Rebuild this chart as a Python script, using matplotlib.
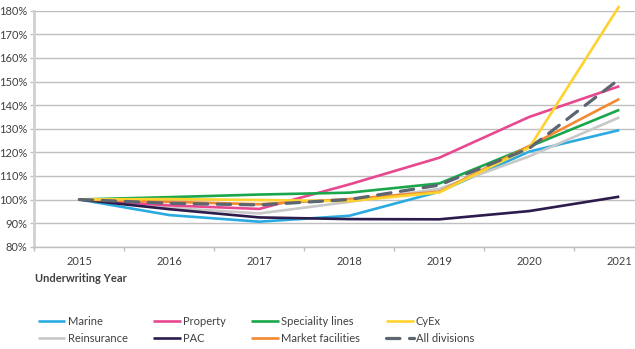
import matplotlib.pyplot as plt
import numpy as np

plt.rcParams['font.family'] = ['Lato', 'DejaVu Sans']

# データ
years = ["2015", "2016", "2017", "2018", "2019", "2020", "2021"]
marine = [100, 93.4, 90.6, 93.1, 103.3, 120.3, 129.4]
prop = [100, 97.5, 96.0, 106.4, 117.7, 135.0, 148.0]
special = [100, 101.0, 102.1, 102.9, 106.8, 122.4, 138.0]
cyex = [100, 100.2, 99.8, 99.3, 103.0, 122.0, 182.0]
reins = [100, 96.5, 94.1, 99.0, 104.5, 118.3, 134.8]
pac = [100, 95.9, 92.4, 91.7, 91.6, 95.1, 101.2]
market = [100, 99.0, 98.0, 100.2, 103.3, 122.7, 142.6]
alldiv = [100, 98.4, 97.7, 100.0, 106.1, 121.7, 151.0]

yticks = np.arange(80, 181, 10)

fig = plt.figure(figsize=(6.35, 3.49), dpi=100)
ax = fig.add_axes([34.3/635, 1 - 246.7/349, 1 - 34.3/635, (246.7 - 10.7)/349])

x = np.arange(len(years))
series = [
    ("Marine", marine, "#29abe2"),
    ("Reinsurance", reins, "#c8c8c8"),
    ("Property", prop, "#e8488f"),
    ("PAC", pac, "#2d1b4b"),
    ("Speciality lines", special, "#1aa64b"),
    ("Market facilities", market, "#f28a30"),
    ("CyEx", cyex, "#fed32f"),
]
lines = {}
for name, vals, col in series:
    lines[name], = ax.plot(x, vals, color=col, lw=1.9, label=name,
                           solid_capstyle="butt", clip_on=False)
# 全体の平均
lines["All divisions"], = ax.plot(x, alldiv, color="#5b6670", lw=2.3, ls=(0, (4.2, 3)),
                                  label="All divisions", dash_capstyle="round")

ax.set_yticks(yticks)
ax.set_yticklabels([f"{v}%" for v in yticks])
ax.set_xticks(x)
ax.set_xticklabels(years)
ax.set_xticks(np.arange(-0.5, 6.6, 1), minor=True)
ax.set_xlim(-0.5, -0.5 + (635 - 34.3) / 90)
ax.set_ylim(80, 180)
ax.tick_params(axis="x", which="major", length=0, pad=7, labelsize=8, labelcolor="#404040")
ax.tick_params(axis="x", which="minor", length=3, color="#bfbfbf", width=1)
ax.tick_params(axis="y", length=3, color="#bfbfbf", width=1, pad=2, labelsize=8, labelcolor="#404040")
ax.grid(axis="y", color="#bfbfbf", lw=1)
ax.set_axisbelow(True)
for s in ["top", "right"]:
    ax.spines[s].set_visible(False)
ax.spines["left"].set_color("#d0d0d0")
ax.spines["left"].set_linewidth(2)
ax.spines["bottom"].set_color("#bfbfbf")
ax.spines["bottom"].set_linewidth(1)

fig.text(35/635, 1 - 278/349, "Underwriting Year", fontsize=8, fontweight="bold",
         color="#404040", va="center", ha="left")

order = ["Marine", "Reinsurance", "Property", "PAC", "Speciality lines",
         "Market facilities", "CyEx", "All divisions"]
fig.legend([lines[n] for n in order], order, ncol=4, loc="upper left",
           bbox_to_anchor=(27.6/635, 1 - 306/349), frameon=False, fontsize=8,
           handlelength=2.5, handletextpad=0.2, columnspacing=2.3,
           labelspacing=0.5, labelcolor="#404040")

plt.savefig("out.png", dpi=100)
